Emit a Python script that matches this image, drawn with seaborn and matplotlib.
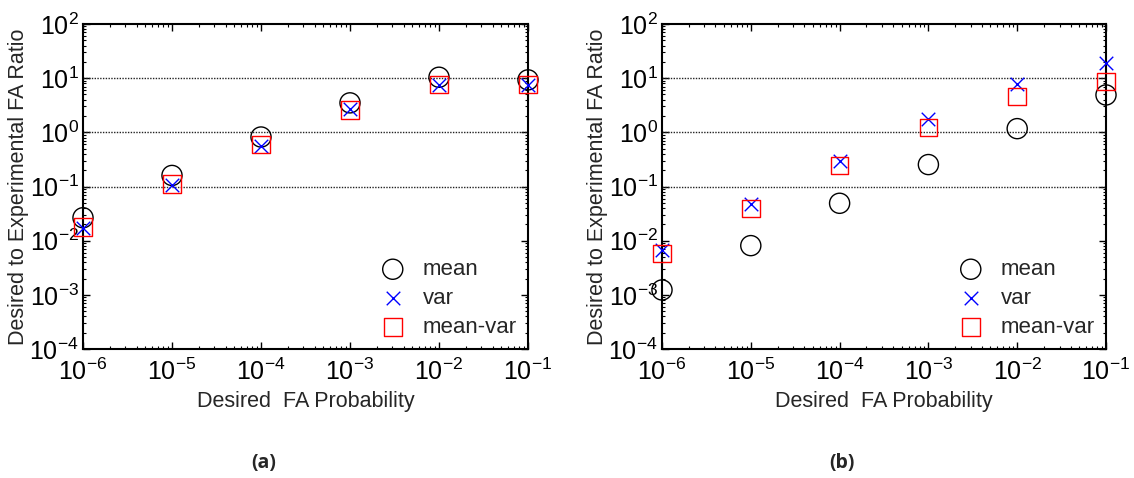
import numpy as np
import pandas as pd
import matplotlib
matplotlib.use("Agg")
import matplotlib.pyplot as plt
import seaborn as sns
from matplotlib.ticker import LogLocator, FixedLocator, NullFormatter

sns.set_theme(style="white")
plt.rcParams['font.family'] = ['Liberation Sans', 'DejaVu Sans']
plt.rcParams['mathtext.fontset'] = 'custom'
plt.rcParams['mathtext.rm'] = 'Liberation Sans'
plt.rcParams['mathtext.it'] = 'Liberation Sans'

# ---- data ----
fa_prob = [1e-6, 1e-5, 1e-4, 1e-3, 1e-2, 1e-1]
a_mean = [0.0265, 0.16, 0.82, 3.5, 10.4, 9.3]
a_var = [0.0174, 0.106, 0.57, 2.7, 7.5, 7.5]
a_meanvar = [0.018, 0.11, 0.60, 2.6, 7.7, 7.7]
b_mean = [0.00123, 0.0081, 0.049, 0.254, 1.17, 4.9]
b_var = [0.0068, 0.047, 0.295, 1.78, 7.9, 18.9]
b_meanvar = [0.0058, 0.039, 0.245, 1.23, 4.6, 8.7]
series_names = ["mean", "var", "mean-var"]
panel_labels = ["(a)", "(b)"]
x_ticklabels = [r"$10^{-6}$", r"$10^{-5}$", r"$10^{-4}$", r"$10^{-3}$", r"$10^{-2}$", r"$10^{-1}$"]
y_ticks = [1e-4, 1e-3, 1e-2, 1e-1, 1e0, 1e1, 1e2]
y_ticklabels = [r"$10^{-4}$", r"$10^{-3}$", r"$10^{-2}$", r"$10^{-1}$", r"$10^{0}$", r"$10^{1}$", r"$10^{2}$"]
grid_levels = [1e-1, 1e0, 1e1]

panels = [(a_mean, a_var, a_meanvar), (b_mean, b_var, b_meanvar)]

fig = plt.figure(figsize=(11.34, 4.78), dpi=100)
axes_pos = [[83 / 1134, 1 - 349 / 478, 445 / 1134, 325 / 478],
            [662 / 1134, 1 - 349 / 478, 444 / 1134, 325 / 478]]
label_x = [264 / 1134, 842 / 1134]

styles = [
    dict(marker="o", s=210, facecolors="none", edgecolors="black", linewidths=1.0),
    dict(marker="x", s=95, color="blue", linewidths=1.0),
    dict(marker="s", s=160, facecolors="none", edgecolors="red", linewidths=1.0),
]

for i, (vals, pos) in enumerate(zip(panels, axes_pos)):
    ax = fig.add_axes(pos)
    for lev in grid_levels:
        ax.axhline(lev, color="#222222", linestyle=(0, (1, 1)), linewidth=1.0, zorder=1)
    for name, v, st in zip(series_names, vals, styles):
        df = pd.DataFrame({"x": fa_prob, "y": v})
        sns.scatterplot(data=df, x="x", y="y", ax=ax, label=name, zorder=3,
                        clip_on=False, **st)
    ax.set_xscale("log")
    ax.set_yscale("log")
    ax.set_xlim(1e-6, 1e-1)
    ax.set_ylim(1e-4, 1e2)
    ax.xaxis.set_major_locator(FixedLocator(fa_prob))
    ax.set_xticklabels(x_ticklabels)
    ax.xaxis.set_minor_locator(LogLocator(base=10, subs=np.arange(2, 10)))
    ax.xaxis.set_minor_formatter(NullFormatter())
    ax.yaxis.set_major_locator(FixedLocator(y_ticks))
    ax.set_yticklabels(y_ticklabels)
    ax.yaxis.set_minor_locator(LogLocator(base=10, subs=np.arange(2, 10)))
    ax.yaxis.set_minor_formatter(NullFormatter())
    ax.tick_params(axis="both", which="both", direction="in", top=True, right=True,
                   bottom=True, left=True, colors="black", labelsize=18)
    ax.tick_params(axis="both", which="major", length=5, width=1)
    ax.tick_params(axis="both", which="minor", length=2.5, width=0.8)
    ax.tick_params(axis="x", which="major", pad=7)
    ax.tick_params(axis="y", which="major", pad=3)
    for sp in ax.spines.values():
        sp.set_color("black")
        sp.set_linewidth(1.5)
    ax.set_xlabel("Desired  FA Probability", fontsize=15.5, labelpad=4)
    ax.set_ylabel("Desired to Experimental FA Ratio", fontsize=15.5, labelpad=0)
    ax.legend(loc="lower right", frameon=False, fontsize=16, handlelength=1.0,
              handletextpad=0.85, labelspacing=0.35, borderpad=0, borderaxespad=0,
              bbox_to_anchor=(0.975, 0.035))
    fig.text(label_x[i], 1 - 463 / 478, panel_labels[i], ha="center", va="center",
             fontsize=14, fontweight="bold", family=["Open Sans", "DejaVu Sans"])

fig.savefig("out.png", dpi=100)
